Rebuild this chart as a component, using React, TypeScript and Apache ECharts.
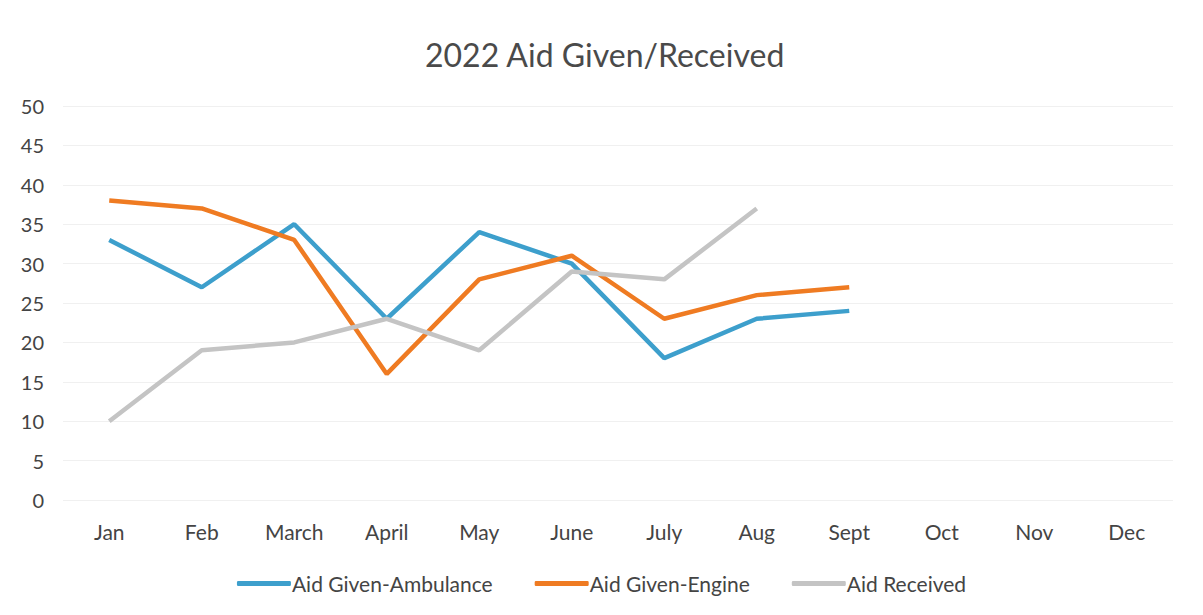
import React, { useEffect, useRef } from "react";
import * as echarts from "echarts";

const categories = ["Jan", "Feb", "March", "April", "May", "June", "July", "Aug", "Sept", "Oct", "Nov", "Dec"];
const ambulance = [33, 27, 35, 23, 34, 30, 18, 23, 24, null, null, null];
const engine = [38, 37, 33, 16, 28, 31, 23, 26, 27, null, null, null];
const received = [10, 19, 20, 23, 19, 29, 28, 37, null, null, null, null];
const yTicks = { min: 0, max: 50, interval: 5 };

export default function App() {
  const ref = useRef<HTMLDivElement>(null);
  useEffect(() => {
    const chart = echarts.init(ref.current!, null, { renderer: "svg" });
    const font = "Lato, 'Open Sans', sans-serif";
    const mk = (name: string, data: any[], color: string) => ({
      name,
      type: "line",
      data,
      symbol: "none",
      lineStyle: { width: 4.5, color },
      itemStyle: { color },
      connectNulls: false,
    });
    chart.setOption({
      animation: false,
      backgroundColor: "#ffffff",
      title: {
        text: "2022 Aid Given/Received",
        left: 420,
        top: 33,
        textStyle: { fontFamily: font, fontSize: 32, fontWeight: "normal", color: "#4a4a4a" },
      },
      grid: { left: 63, right: 30, top: 106, bottom: 115 },
      xAxis: {
        type: "category",
        data: categories,
        boundaryGap: true,
        axisLine: { show: false },
        axisTick: { show: false },
        axisLabel: { fontFamily: font, fontSize: 21, color: "#444", margin: 21 },
      },
      yAxis: {
        type: "value",
        min: yTicks.min,
        max: yTicks.max,
        interval: yTicks.interval,
        axisLine: { show: false },
        axisTick: { show: false },
        splitLine: { lineStyle: { color: "#f0f0f0", width: 1 } },
        axisLabel: { fontFamily: font, fontSize: 20, color: "#444", margin: 19 },
      },
      legend: {
        bottom: 16,
        left: "center",
        itemWidth: 54,
        itemHeight: 5,
        itemGap: 42,
        icon: "roundRect",
        textStyle: { fontFamily: font, fontSize: 21, color: "#444", padding: [0, 0, 0, -4] },
        data: ["Aid Given-Ambulance", "Aid Given-Engine", "Aid Received"],
      },
      series: [
        mk("Aid Given-Ambulance", ambulance, "#3d9fcc"),
        mk("Aid Given-Engine", engine, "#ef7b22"),
        mk("Aid Received", received, "#c4c4c4"),
      ],
    });
    return () => chart.dispose();
  }, []);
  return <div ref={ref} style={{ position: "fixed", left: 0, top: 0, width: 1203, height: 615 }} />;
}
